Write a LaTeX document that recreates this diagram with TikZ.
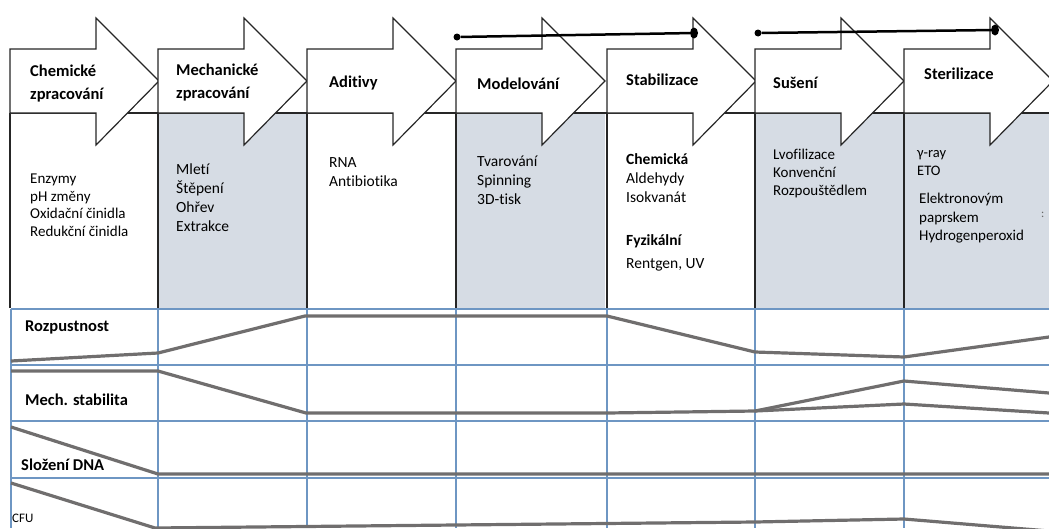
\documentclass[tikz,border=0pt]{standalone}
\usepackage{fontspec}
\setmainfont{Carlito}[Ligatures=NoCommon]
\usetikzlibrary{shapes.geometric}
\definecolor{panel}{RGB}{214,220,228}
\definecolor{gridblue}{RGB}{110,150,195}
\definecolor{trend}{RGB}{112,110,110}
\tikzset{
  hdr/.style={anchor=west, font=\fontsize{16.5}{23}\selectfont\bfseries, align=left, inner sep=0pt},
  txt/.style={anchor=north west, font=\fontsize{15.5}{19}\selectfont, align=left, inner sep=0pt},
  lbl/.style={anchor=west, font=\fontsize{16.5}{19}\selectfont\bfseries, inner sep=0pt},
  stepline/.style={draw=black!85, line width=1.2pt, line join=miter},
  rowline/.style={gridblue, line width=1.1pt},
  trendline/.style={trend, line width=3.2pt, line join=round},
  smalldot/.style={circle, fill=black, inner sep=0pt, minimum size=7pt},
  bigdot/.style={ellipse, fill=black, inner sep=0pt, minimum width=8pt, minimum height=11pt},
}
\begin{document}
\begin{tikzpicture}[x=1pt,y=-1pt]
\useasboundingbox (0,0) rectangle (1049,528);
\clip (0,0) rectangle (1049,528);
% shaded columns
\foreach \x in {158,456,755,904}
  \fill[panel] (\x,113) rectangle (\x+149,308);
% upper table
\draw[stepline] (10,113) -- (1049,113);
\foreach \x in {10,158,307,456,607,755,904}
  \draw[stepline] (\x,113) -- (\x,308);
% process arrows
\foreach \x in {10,158,307,456,607,755,904}
  \draw[stepline, fill=white] (\x,49) -- (\x+86,49) -- (\x+86,18) -- (\x+149,81)
    -- (\x+86,145) -- (\x+86,113) -- (\x,113) -- cycle;
% lower grid
\foreach \y in {309,365,421,478}
  \draw[rowline] (11,\y) -- (1049,\y);
\foreach \x in {11,158,307,456,607,755,904}
  \draw[rowline] (\x,309) -- (\x,528);
% trends
\draw[trendline] (11,361) -- (158,353) -- (305,316) -- (607,316) -- (755,352) -- (904,357) -- (1049,337);
\draw[trendline] (11,371) -- (158,371) -- (306,413) -- (607,413) -- (755,411) -- (904,381) -- (1049,393);
\draw[trendline] (755,411) -- (904,404) -- (1049,413);
\draw[trendline] (11,427) -- (158,474) -- (1049,474);
\draw[trendline] (11,483) -- (155,528) -- (755,522) -- (904,519) -- (1049,531);
% bars over arrows
\node[smalldot] (m1) at (457,37) {};
\node[bigdot] (m2) at (694,33) {};
\node[smalldot] (s1) at (758,33) {};
\node[bigdot] (s2) at (995,30) {};
\draw[line width=2.5pt] (m1) -- (m2);
\draw[line width=2.5pt] (s1) -- (s2);
% headers
\node[hdr] (chem) at (30,84) {Chemické\\zpracování};
\node[hdr] (mech) at (176,83) {Mechanické\\zpracování};
\node[hdr] (adit) at (329,83) {Aditivy};
\node[hdr] (model) at (477,84) {Modelování};
\node[hdr] (stab) at (626,80) {Stabilizace};
\node[hdr] (suse) at (773,83) {Sušení};
\node[hdr] (ster) at (924,74) {Sterilizace};
% column contents
\node[txt, font=\fontsize{15}{17.5}\selectfont] (chemtxt) at (30,174) {Enzymy\\pH změny\\Oxidační činidla\\Redukční činidla};
\node[txt] (mechtxt) at (176,164) {Mletí\\Štěpení\\Ohřev\\Extrakce};
\node[txt] (adittxt) at (329,157) {RNA\\Antibiotika};
\node[txt] (modeltxt) at (477,156) {Tvarování\\Spinning\\3D-tisk};
\node[txt] (stabtxt) at (626,153) {\textbf{Chemická}\\Aldehydy\\Isokvanát};
\node[txt, font=\fontsize{15.5}{23}\selectfont] (stabtxtb) at (626,234) {\textbf{Fyzikální}\\Rentgen, UV};
\node[txt, font=\fontsize{15}{18}\selectfont] (susetxt) at (773,149) {Lvofilizace\\Konvenční\\Rozpouštědlem};
\node[txt, font=\fontsize{14.5}{18}\selectfont] (stertxt) at (917,150) {γ-ray\\ETO};
\node[txt, font=\fontsize{15}{18.5}\selectfont] (stertxtb) at (919,193) {Elektronovým\\paprskem\\Hydrogenperoxid};
\node[anchor=west, inner sep=0pt, font=\fontsize{12}{12}\selectfont, black!60] (colon) at (1041,215) {:};
% row labels
\node[lbl] (rozp) at (25,327) {Rozpustnost};
\node[lbl] (stabil) at (25,400) {Mech. stabilita};
\node[lbl] (dna) at (21,465) {Složení DNA};
\node[anchor=west, inner sep=0pt, font=\fontsize{13}{15}\selectfont] (cfu) at (12,518) {CFU};
\end{tikzpicture}
\end{document}
